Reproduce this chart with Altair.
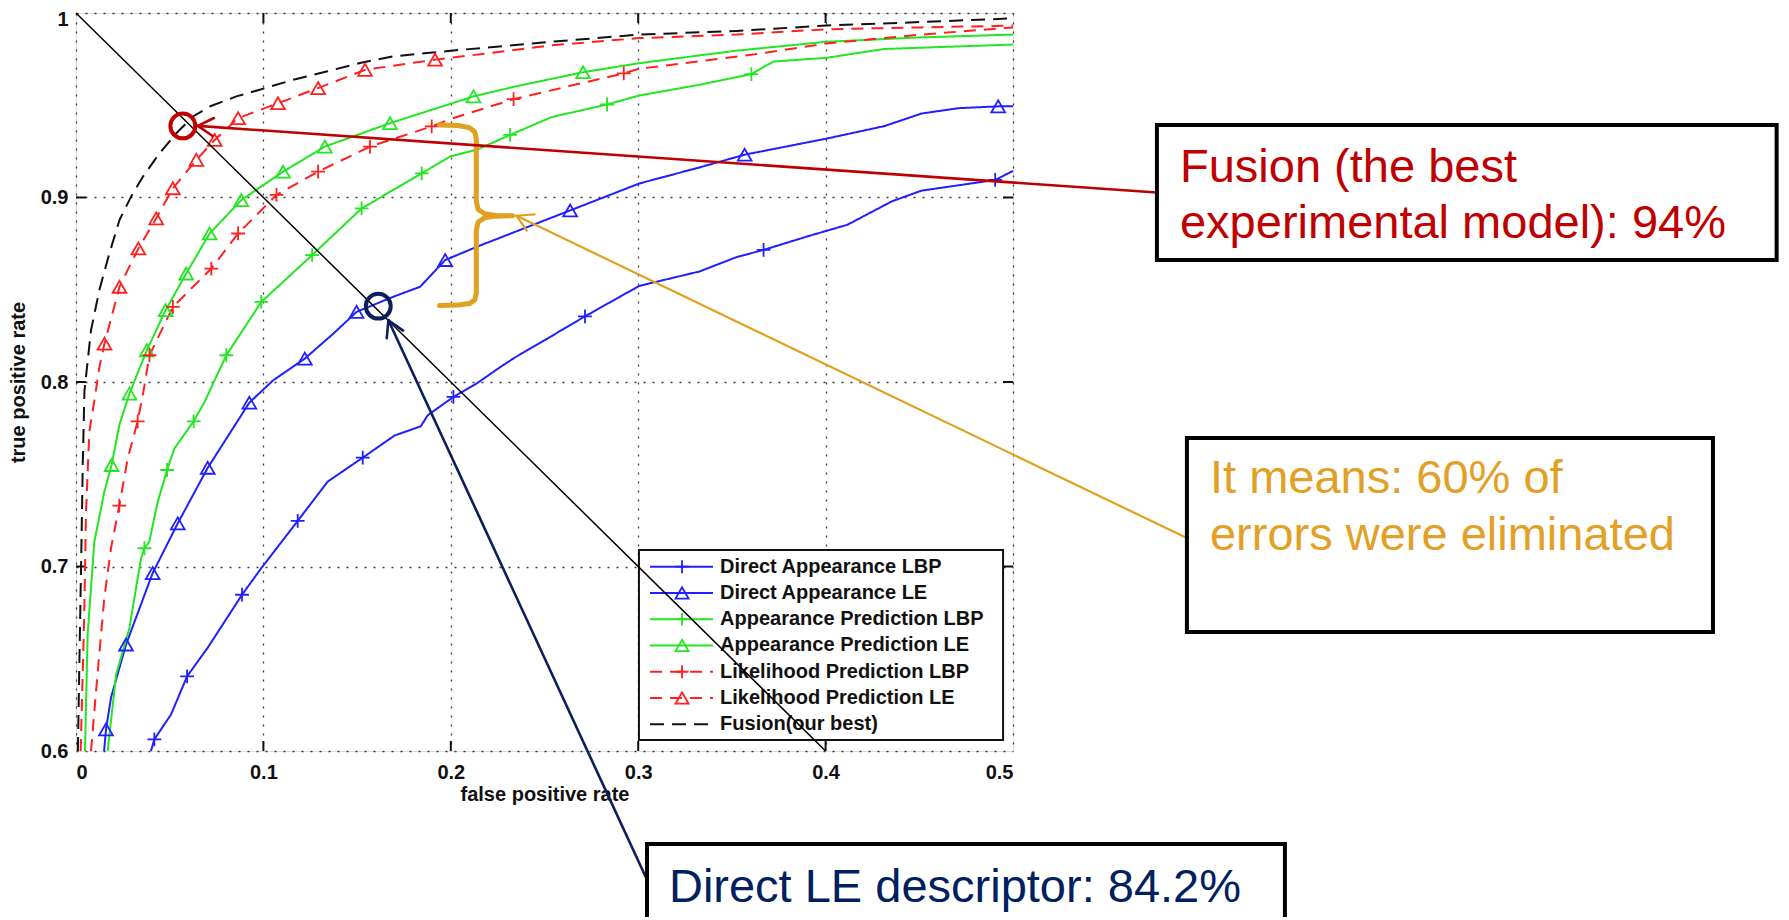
import math
import altair as alt
import pandas as pd

# ---------------- data ----------------
names = ["Direct Appearance LBP", "Direct Appearance LE", "Appearance Prediction LBP",
         "Appearance Prediction LE", "Likelihood Prediction LBP", "Likelihood Prediction LE",
         "Fusion(our best)"]
colors = ["#1f1fff", "#1f1fff", "#22e622", "#22e622", "#ff1f1f", "#ff1f1f", "#111111"]
dashes = [[1, 0], [1, 0], [1, 0], [1, 0], [12, 8], [12, 8], [14, 8]]
legend_dashes = [[1, 0], [1, 0], [1, 0], [1, 0], [11, 14], [11, 14], [13, 12]]
widths = [2, 2, 2, 2, 2.6, 2.6, 3.2]
markers = ["plus", "tri", "plus", "tri", "plus", "tri", "none"]

da_lbp_x = [0.040, 0.0418, 0.0507, 0.0593, 0.0703, 0.0886, 0.0988, 0.1183, 0.1343, 0.153, 0.170, 0.184, 0.1877, 0.2014, 0.2144, 0.2264, 0.2341, 0.2538, 0.2716, 0.3006, 0.3327, 0.3525, 0.3669, 0.3919, 0.4116, 0.4353, 0.4511, 0.4708, 0.4905, 0.500]
da_lbp_y = [0.600, 0.6063, 0.6198, 0.6405, 0.656, 0.6847, 0.699, 0.7247, 0.746, 0.759, 0.771, 0.776, 0.782, 0.7919, 0.7996, 0.8081, 0.8132, 0.8249, 0.8356, 0.8521, 0.8599, 0.8677, 0.8716, 0.8794, 0.8852, 0.8979, 0.9037, 0.9066, 0.9095, 0.9144]
da_lbp_mx = [0.0418, 0.0593, 0.0886, 0.1183, 0.153, 0.2014, 0.2716, 0.3669, 0.4905]
da_lbp_my = [0.6063, 0.6405, 0.6847, 0.7247, 0.759, 0.7919, 0.8356, 0.8716, 0.9095]

da_le_x = [0.015, 0.016, 0.0187, 0.0267, 0.0409, 0.0543, 0.0703, 0.0925, 0.1052, 0.1221, 0.1373, 0.1497, 0.1693, 0.1836, 0.197, 0.2144, 0.2341, 0.2637, 0.3006, 0.3327, 0.3568, 0.4004, 0.4314, 0.4511, 0.4708, 0.4921, 0.500]
da_le_y = [0.600, 0.6117, 0.629, 0.6577, 0.6964, 0.7234, 0.7535, 0.7888, 0.8009, 0.8127, 0.8262, 0.838, 0.8462, 0.8516, 0.8661, 0.8735, 0.8813, 0.893, 0.9076, 0.9163, 0.9232, 0.9319, 0.9387, 0.9455, 0.9484, 0.9494, 0.9494]
da_le_mx = [0.016, 0.0267, 0.0409, 0.0543, 0.0703, 0.0925, 0.1221, 0.1497, 0.197, 0.2637, 0.3568, 0.4921]
da_le_my = [0.6117, 0.6577, 0.6964, 0.7234, 0.7535, 0.7888, 0.8127, 0.838, 0.8661, 0.893, 0.9232, 0.9494]

ap_lbp_x = [0.0169, 0.0214, 0.0285, 0.0347, 0.0365, 0.0391, 0.0436, 0.0486, 0.0525, 0.0628, 0.0685, 0.0802, 0.0989, 0.126, 0.1524, 0.1845, 0.1996, 0.2144, 0.2316, 0.2538, 0.2834, 0.3006, 0.3327, 0.3604, 0.3722, 0.4004, 0.4314, 0.500]
ap_lbp_y = [0.600, 0.6414, 0.6667, 0.7045, 0.7099, 0.7135, 0.735, 0.7523, 0.764, 0.7787, 0.789, 0.8145, 0.8434, 0.8688, 0.8941, 0.9131, 0.9222, 0.9261, 0.9339, 0.9436, 0.9504, 0.9553, 0.9611, 0.9669, 0.9737, 0.9757, 0.9805, 0.9829]
ap_lbp_mx = [0.0365, 0.0486, 0.0628, 0.0802, 0.0989, 0.126, 0.1524, 0.1845, 0.2316, 0.2834, 0.3604]
ap_lbp_my = [0.7099, 0.7523, 0.7787, 0.8145, 0.8434, 0.8688, 0.8941, 0.9131, 0.9339, 0.9504, 0.9669]

ap_le_x = [0.0048, 0.0062, 0.0098, 0.0151, 0.019, 0.0231, 0.0285, 0.0378, 0.0478, 0.0588, 0.0713, 0.0882, 0.1105, 0.1328, 0.1676, 0.2121, 0.2341, 0.2706, 0.3006, 0.3525, 0.4004, 0.4511, 0.500]
ap_le_y = [0.600, 0.663, 0.7135, 0.7405, 0.755, 0.7766, 0.7937, 0.8172, 0.8389, 0.8588, 0.8805, 0.8986, 0.914, 0.9276, 0.9403, 0.9548, 0.9601, 0.9679, 0.9728, 0.9796, 0.9844, 0.9868, 0.9883]
ap_le_mx = [0.019, 0.0285, 0.0378, 0.0478, 0.0588, 0.0713, 0.0882, 0.1105, 0.1328, 0.1676, 0.2121, 0.2706]
ap_le_my = [0.755, 0.7937, 0.8172, 0.8389, 0.8588, 0.8805, 0.8986, 0.914, 0.9276, 0.9403, 0.9548, 0.9679]

lp_lbp_x = [0.008, 0.0116, 0.0151, 0.0187, 0.0231, 0.0276, 0.0329, 0.036, 0.0392, 0.0517, 0.0722, 0.0865, 0.107, 0.1292, 0.1569, 0.1898, 0.200, 0.2335, 0.2923, 0.3006, 0.3623, 0.4004, 0.4511, 0.500]
lp_lbp_y = [0.600, 0.643, 0.683, 0.710, 0.733, 0.7586, 0.7787, 0.795, 0.8145, 0.8407, 0.8615, 0.8805, 0.9014, 0.914, 0.9276, 0.9385, 0.9426, 0.9533, 0.9673, 0.9698, 0.9776, 0.9835, 0.9883, 0.9922]
lp_lbp_mx = [0.0231, 0.0329, 0.0392, 0.0517, 0.0722, 0.0865, 0.107, 0.1292, 0.1569, 0.1898, 0.2335, 0.2923]
lp_lbp_my = [0.733, 0.7787, 0.8145, 0.8407, 0.8615, 0.8805, 0.9014, 0.914, 0.9276, 0.9385, 0.9533, 0.9673]

lp_le_x = [0.0025, 0.0044, 0.0053, 0.0071, 0.0098, 0.0125, 0.0152, 0.0232, 0.0333, 0.0428, 0.0517, 0.0642, 0.074, 0.0865, 0.1078, 0.1292, 0.1542, 0.1916, 0.200, 0.2538, 0.3006, 0.3525, 0.4004, 0.4511, 0.500]
lp_le_y = [0.600, 0.674, 0.728, 0.773, 0.790, 0.8081, 0.8208, 0.8516, 0.8724, 0.8887, 0.905, 0.9204, 0.9312, 0.943, 0.9511, 0.9593, 0.9692, 0.9747, 0.9757, 0.9825, 0.9864, 0.9883, 0.9912, 0.9922, 0.9932]
lp_le_mx = [0.0152, 0.0232, 0.0333, 0.0428, 0.0517, 0.0642, 0.074, 0.0865, 0.1078, 0.1292, 0.1542, 0.1916]
lp_le_my = [0.8208, 0.8516, 0.8724, 0.8887, 0.905, 0.9204, 0.9312, 0.943, 0.9511, 0.9593, 0.9692, 0.9747]

fusion_x = [0.001, 0.0027, 0.0036, 0.0045, 0.008, 0.0125, 0.0178, 0.0232, 0.0294, 0.0357, 0.0446, 0.0535, 0.0624, 0.0713, 0.0856, 0.098, 0.1159, 0.1337, 0.1515, 0.1693, 0.1872, 0.205, 0.2538, 0.3006, 0.3525, 0.4004, 0.4511, 0.500]
fusion_y = [0.600, 0.700, 0.755, 0.795, 0.828, 0.850, 0.8697, 0.8878, 0.9005, 0.9113, 0.924, 0.9348, 0.9439, 0.9493, 0.9548, 0.9584, 0.9638, 0.9683, 0.9729, 0.9765, 0.9783, 0.980, 0.9844, 0.9883, 0.9903, 0.9932, 0.9951, 0.9971]

x_ticks = [0, 0.1, 0.2, 0.3, 0.4, 0.5]
y_ticks = [0.6, 0.7, 0.8, 0.9, 1.0]

# equal error rate line, from (0,1) to (0.4,0.6)
eer_x = [0.0, 0.4]
eer_y = [1.0, 0.6]

# annotation anchors (data units)
circle_x = [0.057, 0.1613]
circle_y = [0.9388, 0.8411]
circle_c = ["#C00000", "#0B1F5C"]

brace_x = [0.1940, 0.2040, 0.2100, 0.2128, 0.2136, 0.2136, 0.2146, 0.2180, 0.2240, 0.2331,
           0.2240, 0.2180, 0.2146, 0.2136, 0.2136, 0.2128, 0.2100, 0.2040, 0.1940]
brace_y = [0.9393, 0.9390, 0.9378, 0.9355, 0.9320, 0.8980, 0.8935, 0.8912, 0.8903, 0.8901,
           0.8899, 0.8890, 0.8867, 0.8822, 0.8480, 0.8445, 0.8425, 0.8417, 0.8414]

arrow_tip_x = [0.065, 0.2351, 0.1667]
arrow_tip_y = [0.9388, 0.8901, 0.8335]
arrow_tail_x = [0.5768, 0.5928, 0.3042]
arrow_tail_y = [0.9027, 0.7154, 0.5313]
arrow_c = ["#C00000", "#E0A020", "#0B1F5C"]
arrow_w = [2.6, 2.2, 2.6]

box_x1 = [0.5768, 0.5928, 0.3047]
box_x2 = [0.9075, 0.8735, 0.6451]
box_y1 = [0.9393, 0.7696, 0.5496]
box_y2 = [0.8661, 0.6645, 0.4900]

note_x = [0.5891, 0.5891, 0.6051, 0.6051, 0.3164]
note_y = [0.9084, 0.8780, 0.7398, 0.7089, 0.5182]
note_text = ["Fusion (the best", "experimental model): 94%", "It means: 60% of",
             "errors were eliminated", "Direct LE descriptor: 84.2%"]
note_c = ["#C00000", "#C00000", "#E2A026", "#E2A026", "#002060"]

# ---------------- layout helpers ----------------
W, H = 937, 738
SX = W / 0.5   # px per x unit
SY = H / 0.4   # px per y unit

series = [(da_lbp_x, da_lbp_y, da_lbp_mx, da_lbp_my), (da_le_x, da_le_y, da_le_mx, da_le_my),
          (ap_lbp_x, ap_lbp_y, ap_lbp_mx, ap_lbp_my), (ap_le_x, ap_le_y, ap_le_mx, ap_le_my),
          (lp_lbp_x, lp_lbp_y, lp_lbp_mx, lp_lbp_my), (lp_le_x, lp_le_y, lp_le_mx, lp_le_my),
          (fusion_x, fusion_y, [], [])]

line_rows, mark_rows = [], []
for k, (xs_, ys_, mx, my) in enumerate(series):
    for i, (a, b) in enumerate(zip(xs_, ys_)):
        line_rows.append(dict(series=names[k], x=a, y=b, i=i))
    for a, b in zip(mx, my):
        mark_rows.append(dict(series=names[k], x=a, y=b, m=markers[k]))
lines_df = pd.DataFrame(line_rows)
marks_df = pd.DataFrame(mark_rows)

PLUS = "M-1,0L1,0M0,-1L0,1"
xsc = alt.Scale(domain=[0, 0.5], nice=False, zero=False)
ysc = alt.Scale(domain=[0.6, 1.0], nice=False, zero=False)
FONT = "Liberation Sans"
common_axis = dict(domain=False, ticks=False, grid=True, gridColor="#3a3a3a", gridDash=[2, 7],
                   gridWidth=1.3, labelFont=FONT, labelFontSize=20, labelFontWeight="bold",
                   labelColor="#111", titleFont=FONT, titleFontSize=20, titleFontWeight="bold",
                   titleColor="#111")
xax = alt.Axis(values=x_ticks, title="false positive rate", labelPadding=11,
               labelExpr="datum.value == 0 ? '0' : format(datum.value, '.1f')",
               titleX=W / 2, titleY=33, titleBaseline="top", titleAlign="center", **common_axis)
yax = alt.Axis(values=y_ticks, title="true positive rate", labelPadding=8,
               labelExpr="datum.value == 1 ? '1' : format(datum.value, '.1f')",
               labelOffset={"condition": {"test": "datum.value == 1", "value": 6}, "value": 0},
               titleX=-58, titleY=H / 2, titleAngle=270, titleBaseline="middle",
               titleAlign="center", **common_axis)


def X(f="x"):
    return alt.X(f, type="quantitative", scale=xsc, axis=xax)


def Y(f="y"):
    return alt.Y(f, type="quantitative", scale=ysc, axis=yax)


ser_color = alt.Color("series:N", scale=alt.Scale(domain=names, range=colors), legend=None)

# inward ticks on all four sides (10 px)
tl = 10
tick_rows = []
for t in x_ticks[1:-1]:
    tick_rows.append(dict(x=t, y=0.6, x2=t, y2=0.6 + tl / SY))
    tick_rows.append(dict(x=t, y=1.0, x2=t, y2=1.0 - tl / SY))
for t in y_ticks[1:-1]:
    tick_rows.append(dict(x=0.0, y=t, x2=tl / SX, y2=t))
    tick_rows.append(dict(x=0.5, y=t, x2=0.5 - tl / SX, y2=t))
ticks = alt.Chart(pd.DataFrame(tick_rows)).mark_rule(color="#111", strokeWidth=2).encode(
    x=X(), y=Y(), x2="x2:Q", y2="y2:Q")

curves = alt.Chart(lines_df).mark_line(strokeJoin="round").encode(
    x=X(), y=Y(), order="i:Q", color=ser_color,
    strokeDash=alt.StrokeDash("series:N", scale=alt.Scale(domain=names, range=dashes), legend=None),
    strokeWidth=alt.StrokeWidth("series:N", scale=alt.Scale(domain=names, range=widths), legend=None),
    detail="series:N")

shape_enc = alt.Shape("m:N", scale=alt.Scale(domain=["plus", "tri"], range=[PLUS, "triangle-up"]),
                      legend=None)
pts = alt.Chart(marks_df).mark_point(filled=False, size=190, strokeWidth=1.8, opacity=1).encode(
    x=X(), y=Y(), color=ser_color, shape=shape_enc)

# ---------------- legend (drawn in the plot, MATLAB style) ----------------
lg_x1, lg_x2, lg_y1, lg_y2 = 0.3004, 0.4947, 0.7089, 0.6060
row0, row_step = 0.6999, 26.27 / SY
lgx_a, lgx_b, lgx_m, lgx_t = 0.3063, 0.3399, 0.3234, 0.3437
leg_rows = []
for k, n in enumerate(names):
    yy = row0 - k * row_step
    leg_rows.append(dict(series=n, x=lgx_a, x2=lgx_b, y=yy, xm=lgx_m, xt=lgx_t, m=markers[k]))
leg_df = pd.DataFrame(leg_rows)

leg_box = alt.Chart(pd.DataFrame([dict(x=lg_x1, x2=lg_x2, y=lg_y1, y2=lg_y2)])).mark_rect(
    fill="white", stroke="#111", strokeWidth=2).encode(x=X(), x2="x2:Q", y=Y(), y2="y2:Q")
leg_lines = alt.Chart(leg_df).mark_rule().encode(
    x=X(), x2="x2:Q", y=Y(), color=ser_color,
    strokeDash=alt.StrokeDash("series:N", scale=alt.Scale(domain=names, range=legend_dashes), legend=None),
    strokeWidth=alt.StrokeWidth("series:N", scale=alt.Scale(domain=names, range=widths), legend=None))
leg_pts = alt.Chart(leg_df[leg_df.m != "none"]).mark_point(filled=False, size=170, strokeWidth=1.8,
                                                          opacity=1).encode(
    x=X("xm"), y=Y(), color=ser_color, shape=shape_enc)
leg_txt = alt.Chart(leg_df).mark_text(align="left", baseline="middle", font=FONT, fontSize=20,
                                      fontWeight="bold", color="#111").encode(
    x=X("xt"), y=Y(), text="series:N")

eer = alt.Chart(pd.DataFrame(dict(x=eer_x, y=eer_y))).mark_line(color="black", strokeWidth=1.5).encode(
    x=X(), y=Y())

# ---------------- annotations ----------------
brace = alt.Chart(pd.DataFrame(dict(x=brace_x, y=brace_y, i=range(len(brace_x))))).mark_line(
    color="#E0A020", strokeWidth=5, strokeCap="round", strokeJoin="round").encode(
    x=X(), y=Y(), order="i:Q")

circles = alt.Chart(pd.DataFrame(dict(x=circle_x, y=circle_y, c=circle_c))).mark_point(
    shape="circle", filled=False, size=620, strokeWidth=4, opacity=1).encode(
    x=X(), y=Y(), color=alt.Color("c:N", scale=None))

arrow_rows = []
for tx, ty, ex, ey, c, w in zip(arrow_tip_x, arrow_tip_y, arrow_tail_x, arrow_tail_y, arrow_c, arrow_w):
    arrow_rows.append(dict(x=tx, y=ty, x2=ex, y2=ey, c=c, w=w))
    ang = math.atan2(-(ey - ty) * SY, (ex - tx) * SX)
    for s in (-1, 1):
        b = ang + s * math.radians(30)
        arrow_rows.append(dict(x=tx, y=ty, x2=tx + 18 * math.cos(b) / SX,
                               y2=ty - 18 * math.sin(b) / SY, c=c, w=w))
arrows = alt.Chart(pd.DataFrame(arrow_rows)).mark_rule(strokeCap="round").encode(
    x=X(), y=Y(), x2="x2:Q", y2="y2:Q", color=alt.Color("c:N", scale=None),
    strokeWidth=alt.StrokeWidth("w:Q", scale=None))

boxes = alt.Chart(pd.DataFrame(dict(x=box_x1, x2=box_x2, y=box_y1, y2=box_y2))).mark_rect(
    fill="white", stroke="black", strokeWidth=4).encode(x=X(), x2="x2:Q", y=Y(), y2="y2:Q")

notes = alt.Chart(pd.DataFrame(dict(x=note_x, y=note_y, t=note_text, c=note_c))).mark_text(
    align="left", baseline="alphabetic", font=FONT, fontSize=47).encode(
    x=X(), y=Y(), text="t:N", color=alt.Color("c:N", scale=None))

chart = alt.layer(ticks, curves, pts, leg_box, leg_lines, leg_pts, leg_txt, eer, brace, circles,
                  arrows, boxes, notes).properties(
    width=W, height=H,
    padding={"left": 68, "top": 5, "right": 768, "bottom": 166},
    autosize=alt.AutoSizeParams(type="none"),
).configure_view(stroke="black", strokeWidth=3.5, fill="white").configure(background="white")

chart.save("out.html", embed_options={"renderer": "svg", "actions": False})
